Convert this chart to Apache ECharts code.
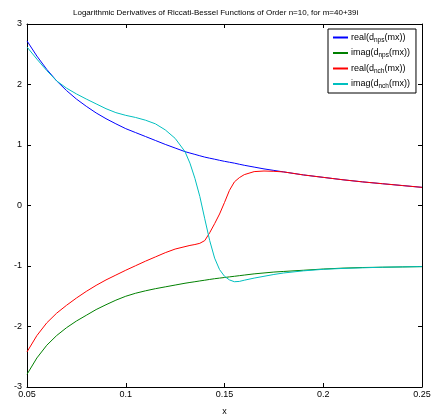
<!DOCTYPE html>
<html><head><meta charset="utf-8">
<script src="https://cdn.jsdelivr.net/npm/echarts@6/dist/echarts.min.js"></script>
<style>html,body{margin:0;padding:0;background:#fff}#c{width:437px;height:414px}</style>
</head><body><div id="c"></div>
<script>
const titleText = 'Logarithmic Derivatives of Riccati-Bessel Functions of Order n=10, for m=40+39i';
const xLabel = 'x';
const seriesNames = ['real(d_nps(mx))', 'imag(d_nps(mx))', 'real(d_nch(mx))', 'imag(d_nch(mx))'];
const xs = [0.05,0.055,0.06,0.065,0.07,0.075,0.08,0.085,0.09,0.095,0.1,0.105,0.11,0.115,0.12,0.125,0.13,0.1325,0.135,0.1375,0.14,0.1425,0.145,0.1475,0.15,0.1525,0.155,0.1575,0.16,0.165,0.17,0.175,0.18,0.19,0.2,0.21,0.22,0.23,0.24,0.25];
const realNps = [2.72,2.47,2.25,2.06,1.90,1.76,1.64,1.53,1.435,1.35,1.27,1.205,1.14,1.075,1.01,0.95,0.89,0.867,0.845,0.822,0.80,0.782,0.765,0.747,0.73,0.715,0.70,0.682,0.665,0.635,0.605,0.58,0.555,0.505,0.465,0.425,0.39,0.36,0.33,0.30];
const imagNps = [-2.79,-2.52,-2.31,-2.15,-2.02,-1.91,-1.815,-1.72,-1.64,-1.565,-1.50,-1.45,-1.41,-1.375,-1.345,-1.315,-1.285,-1.272,-1.26,-1.247,-1.235,-1.222,-1.21,-1.20,-1.19,-1.18,-1.17,-1.16,-1.15,-1.13,-1.115,-1.10,-1.09,-1.07,-1.05,-1.035,-1.025,-1.02,-1.015,-1.01];
const realNch = [-2.42,-2.15,-1.94,-1.78,-1.65,-1.53,-1.42,-1.32,-1.23,-1.15,-1.07,-0.995,-0.92,-0.85,-0.78,-0.72,-0.68,-0.66,-0.645,-0.625,-0.58,-0.45,-0.30,-0.14,0.05,0.25,0.39,0.46,0.51,0.56,0.57,0.565,0.555,0.505,0.465,0.425,0.39,0.36,0.33,0.30];
const imagNch = [2.62,2.42,2.23,2.06,1.94,1.845,1.76,1.68,1.60,1.535,1.49,1.455,1.41,1.35,1.25,1.11,0.89,0.70,0.45,0.15,-0.22,-0.58,-0.87,-1.06,-1.17,-1.23,-1.26,-1.255,-1.235,-1.20,-1.17,-1.14,-1.115,-1.08,-1.055,-1.04,-1.03,-1.02,-1.015,-1.01];
const colors = ['#0000ff', '#008000', '#ff0000', '#00bfbf'];
const xTicks = {min: 0.05, max: 0.25, interval: 0.05};
const yTicks = {min: -3, max: 3, interval: 1};

const ys = [realNps, imagNps, realNch, imagNch];
const font = 'Liberation Sans, Arial, sans-serif';
const chart = echarts.init(document.getElementById('c'), null, {renderer: 'canvas'});
const axisCommon = {
  axisLine: {show: true, onZero: false, lineStyle: {color: '#000', width: 1}},
  axisTick: {show: true, inside: true, length: 4, lineStyle: {color: '#000'}},
  splitLine: {show: false}
};
chart.setOption({
  animation: false,
  title: {text: titleText, left: 68, top: 4, textStyle: {fontFamily: font, fontSize: 8, fontWeight: 'normal', color: '#000'}},
  grid: {left: 27, right: 15, top: 24, bottom: 27, containLabel: false, outerBoundsMode: 'none'},
  legend: {
    data: seriesNames, orient: 'vertical', left: 328, top: 29,
    backgroundColor: '#fff', borderColor: '#000', borderWidth: 1, borderRadius: 0,
    padding: [4, 6, 3, 5], itemGap: 5, itemWidth: 15, itemHeight: 2, icon: 'rect',
    formatter: function (n) { const m = n.match(/^(.*d)_(\w+)(\(mx\)\))$/); return m ? '{n|' + m[1] + '}{s|' + m[2] + '}{n|' + m[3] + '}' : n; },
    textStyle: {fontFamily: font, fontSize: 9, color: '#000', padding: [0,0,0,-2],
      rich: {n: {fontFamily: font, fontSize: 9, color: '#000', height: 11, verticalAlign: 'top'}, s: {fontFamily: font, fontSize: 6.5, color: '#000', height: 6, padding: [5,0,0,0], verticalAlign: 'top'}}}
  },
  xAxis: [
    Object.assign({type: 'value', position: 'bottom', min: xTicks.min, max: xTicks.max, interval: xTicks.interval,
      name: xLabel, nameLocation: 'middle', nameGap: 20, nameTextStyle: {fontFamily: font, fontSize: 9, color: '#000'},
      axisLabel: {fontFamily: font, fontSize: 9, color: '#000', margin: 3, formatter: v => String(+v.toFixed(2))}}, axisCommon),
    Object.assign({type: 'value', position: 'top', min: xTicks.min, max: xTicks.max, interval: xTicks.interval, axisLabel: {show: false}}, axisCommon)
  ],
  yAxis: [
    Object.assign({type: 'value', position: 'left', min: yTicks.min, max: yTicks.max, interval: yTicks.interval,
      axisLabel: {fontFamily: font, fontSize: 9, color: '#000', margin: 5, padding: [0,0,3,0]}}, axisCommon),
    Object.assign({type: 'value', position: 'right', min: yTicks.min, max: yTicks.max, interval: yTicks.interval, axisLabel: {show: false}}, axisCommon)
  ],
  series: seriesNames.map((name, k) => ({
    name: name, type: 'line', xAxisIndex: 0, yAxisIndex: 0,
    data: xs.map((x, i) => [x, ys[k][i]]),
    showSymbol: false, smooth: false,
    lineStyle: {color: colors[k], width: 1}, itemStyle: {color: colors[k]}
  }))
});
</script></body></html>
